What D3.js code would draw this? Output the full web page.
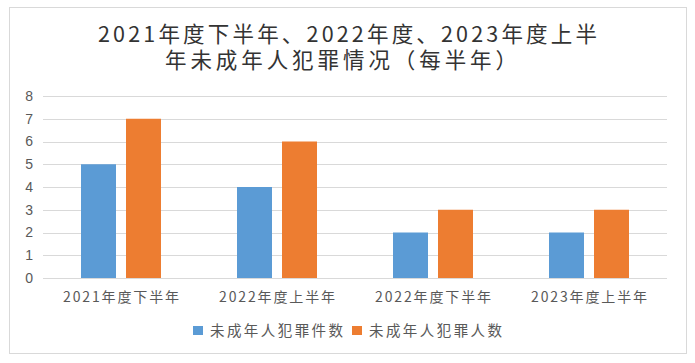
<!DOCTYPE html>
<html>
<head>
<meta charset="utf-8">
<script src="https://cdn.jsdelivr.net/npm/d3@7"></script>
<style>
  body { margin: 0; background: #fff; }
  svg { display: block; }
  text { font-family: "Microsoft YaHei", "Noto Sans CJK SC", sans-serif; }
</style>
</head>
<body>
<div class="container"></div>
<script>
const categories = ["2021年度下半年", "2022年度上半年", "2022年度下半年", "2023年度上半年"]
const caseCounts = [5, 4, 2, 2]
const personCounts = [7, 6, 3, 3]
const seriesNames = ["未成年人犯罪件数", "未成年人犯罪人数"]
const seriesColors = ["#5B9BD5", "#ED7D31"]
const yTicks = [0, 1, 2, 3, 4, 5, 6, 7, 8]
const titleLines = ["2021年度下半年、2022年度、2023年度上半", "年未成年人犯罪情况（每半年）"]

let width = 695
let height = 363
let plotLeft = 43, plotRight = 667, plotTop = 96, plotBottom = 278

let svg = d3.select(".container")
  .append("svg")
  .attr("width", width)
  .attr("height", height)

// outer frame
svg.append("rect")
  .attr("x", 9.5).attr("y", 7.5)
  .attr("width", 677).attr("height", 346)
  .attr("fill", "#fff")
  .attr("stroke", "#d9d9d9")

// title, stretched to the width the original occupies
let titleWidths = [499, 352]
svg.selectAll(".title")
  .data(titleLines)
  .enter()
  .append("text")
  .attr("class", "title")
  .attr("x", (d, i) => i === 0 ? 98 : 165)
  .attr("y", (d, i) => 42 + i * 25.5)
  .attr("textLength", (d, i) => titleWidths[i])
  .attr("lengthAdjust", "spacing")
  .attr("font-size", "21.5px")
  .attr("fill", "#333")
  .text(d => d)

let x = d3.scaleBand().domain(categories).range([plotLeft, plotRight])
let y = d3.scaleLinear().domain([0, 8]).range([plotBottom, plotTop])

// gridlines
svg.selectAll(".grid")
  .data(yTicks)
  .enter()
  .append("line")
  .attr("x1", plotLeft).attr("x2", plotRight)
  .attr("y1", d => Math.round(y(d)) + 0.5)
  .attr("y2", d => Math.round(y(d)) + 0.5)
  .attr("stroke", "#d9d9d9")

// y axis labels
let yAxis = svg.append("g")
  .attr("transform", `translate(${plotLeft - 10},0)`)
  .call(d3.axisLeft(y).tickValues(yTicks).tickSize(0).tickPadding(0))
yAxis.select(".domain").remove()
yAxis.selectAll("text")
  .attr("font-size", "14px")
  .attr("fill", "#595959")
  .style("font-family", "Arial, 'Liberation Sans', sans-serif")

// x axis labels
let xAxis = svg.append("g")
  .attr("transform", `translate(0,${plotBottom})`)
  .call(d3.axisBottom(x).tickSize(0).tickPadding(14))
xAxis.select(".domain").remove()
xAxis.selectAll("text")
  .attr("font-size", "14px")
  .attr("fill", "#595959")
  .attr("textLength", 116)
  .attr("lengthAdjust", "spacing")

let barW = 35, gap = 10
let series = [caseCounts, personCounts]
series.forEach((vals, s) => {
  svg.selectAll(".bar" + s)
    .data(vals)
    .enter()
    .append("rect")
    .attr("class", "bar" + s)
    .attr("x", (d, i) => x(categories[i]) + x.bandwidth() / 2 + (s === 0 ? -gap / 2 - barW : gap / 2))
    .attr("y", d => y(d))
    .attr("width", barW)
    .attr("height", d => y(0) - y(d))
    .attr("fill", seriesColors[s])
})

// legend
let legendX = [193, 352]
seriesNames.forEach((name, i) => {
  svg.append("rect")
    .attr("x", legendX[i]).attr("y", 326)
    .attr("width", 10).attr("height", 9)
    .attr("fill", seriesColors[i])
  svg.append("text")
    .attr("x", legendX[i] + 17).attr("y", 336)
    .attr("font-size", "14.5px")
    .attr("fill", "#595959")
    .attr("textLength", 133)
    .attr("lengthAdjust", "spacing")
    .text(name)
})
</script>
</body>
</html>
